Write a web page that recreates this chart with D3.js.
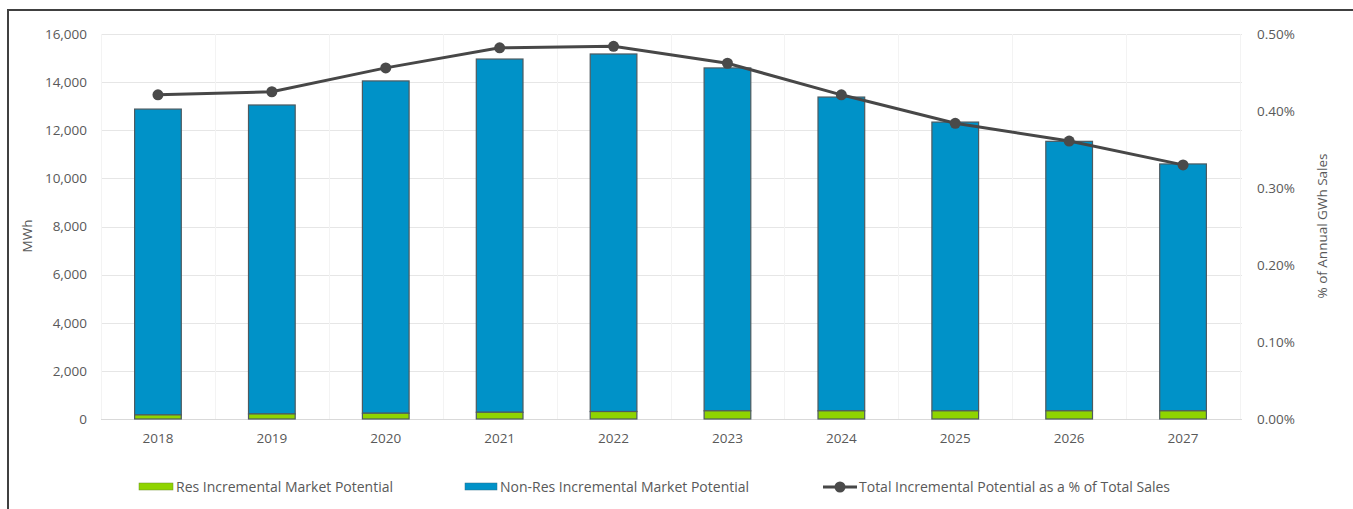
<!DOCTYPE html>
<html>
<head>
<meta charset="utf-8">
<script src="https://cdn.jsdelivr.net/npm/d3@7"></script>
<style>
  html, body { margin: 0; padding: 0; background: #fff; }
  svg { display: block; font-family: "Open Sans", "DejaVu Sans", sans-serif; }
</style>
</head>
<body>
<svg id="chart" width="1353" height="509"></svg>
<script>
const years = ["2018","2019","2020","2021","2022","2023","2024","2025","2026","2027"];
const resValues = [170, 210, 240, 280, 310, 340, 340, 340, 340, 340];
const nonResValues = [12710, 12840, 13810, 14680, 14860, 14250, 13040, 12000, 11200, 10260];
const pctValues = [0.421, 0.425, 0.456, 0.482, 0.484, 0.462, 0.421, 0.384, 0.361, 0.330];
const leftTicks = [0, 2000, 4000, 6000, 8000, 10000, 12000, 14000, 16000];
const rightTicks = [0, 0.1, 0.2, 0.3, 0.4, 0.5];
const seriesNames = ["Res Incremental Market Potential", "Non-Res Incremental Market Potential", "Total Incremental Potential as a % of Total Sales"];

const svg = d3.select("#chart");
const textColor = "#595959";
const plot = { left: 101, right: 1240, top: 34, bottom: 419 };

// frame
svg.append("rect").attr("x", 8).attr("y", 10).attr("width", 1400).attr("height", 600)
  .attr("fill", "none").attr("stroke", "#404040").attr("stroke-width", 2);

const x = d3.scaleBand().domain(years).range([plot.left, plot.right]).paddingInner(0).paddingOuter(0);
const yL = d3.scaleLinear().domain([0, 16000]).range([plot.bottom, plot.top]);
const yR = d3.scaleLinear().domain([0, 0.5]).range([plot.bottom, plot.top]);

// horizontal gridlines
svg.append("g").selectAll("line").data(leftTicks).join("line")
  .attr("x1", plot.left).attr("x2", plot.right + 2)
  .attr("y1", d => Math.round(yL(d)) + 0.5).attr("y2", d => Math.round(yL(d)) + 0.5)
  .attr("stroke", d => d === 0 ? "#d9d9d9" : "#e6e6e6").attr("stroke-width", 1);

// vertical faint gridlines at band boundaries
const bounds = years.map(y => x(y)).concat([plot.right]);
svg.append("g").selectAll("line").data(bounds).join("line")
  .attr("x1", d => Math.round(d) + 0.5).attr("x2", d => Math.round(d) + 0.5)
  .attr("y1", plot.top).attr("y2", plot.bottom)
  .attr("stroke", "#f3f3f3").attr("stroke-width", 1);

// bars
const barW = x.bandwidth() * 0.41;
const gBars = svg.append("g");
years.forEach((yr, i) => {
  const cx = x(yr) + x.bandwidth() / 2;
  const r = resValues[i], n = nonResValues[i];
  gBars.append("rect")
    .attr("x", cx - barW / 2).attr("width", barW)
    .attr("y", yL(r + n)).attr("height", yL(r) - yL(r + n))
    .attr("fill", "#0092c8").attr("stroke", "#4d5a60").attr("stroke-width", 1.2);
  gBars.append("rect")
    .attr("x", cx - barW / 2).attr("width", barW)
    .attr("y", yL(r)).attr("height", yL(0) - yL(r))
    .attr("fill", "#8fd400").attr("stroke", "#4d5a60").attr("stroke-width", 1.2);
});

// line
const line = d3.line().x((d, i) => x(years[i]) + x.bandwidth() / 2).y(d => yR(d));
svg.append("path").datum(pctValues).attr("d", line)
  .attr("fill", "none").attr("stroke", "#474747").attr("stroke-width", 3);
svg.append("g").selectAll("circle").data(pctValues).join("circle")
  .attr("cx", (d, i) => x(years[i]) + x.bandwidth() / 2).attr("cy", d => yR(d))
  .attr("r", 5.5).attr("fill", "#4a4a4a");

// left axis
const axL = d3.axisLeft(yL).tickValues(leftTicks).tickFormat(d3.format(",")).tickSize(0).tickPadding(0);
const gL = svg.append("g").attr("transform", "translate(87,0)").call(axL);
gL.select(".domain").remove();
gL.selectAll("text").attr("fill", textColor).attr("font-size", "13.5px")
  .attr("font-family", "'Open Sans', sans-serif");

// right axis
const axR = d3.axisRight(yR).tickValues(rightTicks).tickFormat(d => d.toFixed(2) + "%").tickSize(0).tickPadding(0);
const gR = svg.append("g").attr("transform", "translate(1257,0)").call(axR);
gR.select(".domain").remove();
gR.selectAll("text").attr("fill", textColor).attr("font-size", "13.5px")
  .attr("font-family", "'Open Sans', sans-serif");

// x axis
const axX = d3.axisBottom(x).tickSize(0).tickPadding(0);
const gX = svg.append("g").attr("transform", `translate(0,${plot.bottom + 14})`).call(axX);
gX.select(".domain").remove();
gX.selectAll("text").attr("fill", textColor).attr("font-size", "13.5px")
  .attr("font-family", "'Open Sans', sans-serif");

// axis titles
svg.append("text").attr("transform", "translate(32,236) rotate(-90)")
  .attr("text-anchor", "middle").attr("fill", textColor).attr("font-size", "13.5px").text("MWh");
svg.append("text").attr("transform", "translate(1327,226) rotate(-90)")
  .attr("text-anchor", "middle").attr("fill", textColor).attr("font-size", "13.5px").text("% of Annual GWh Sales");

// legend
const legY = 487;
const legFont = "14px";
const leg = svg.append("g");
leg.append("rect").attr("x", 139).attr("y", legY - 4).attr("width", 34).attr("height", 7)
  .attr("fill", "#8fd400").attr("stroke", "#6b8f2a").attr("stroke-width", 0.5);
leg.append("text").attr("x", 176).attr("y", legY).attr("dy", "0.35em")
  .attr("fill", textColor).attr("font-size", legFont).text(seriesNames[0]);
leg.append("rect").attr("x", 465).attr("y", legY - 4).attr("width", 32).attr("height", 7)
  .attr("fill", "#0092c8").attr("stroke", "#2f6f8a").attr("stroke-width", 0.5);
leg.append("text").attr("x", 500).attr("y", legY).attr("dy", "0.35em")
  .attr("fill", textColor).attr("font-size", legFont).text(seriesNames[1]);
leg.append("line").attr("x1", 823).attr("x2", 857).attr("y1", legY).attr("y2", legY)
  .attr("stroke", "#474747").attr("stroke-width", 3);
leg.append("circle").attr("cx", 840).attr("cy", legY).attr("r", 5.5).attr("fill", "#4a4a4a");
leg.append("text").attr("x", 859).attr("y", legY).attr("dy", "0.35em")
  .attr("fill", textColor).attr("font-size", legFont).text(seriesNames[2]);
</script>
</body>
</html>
